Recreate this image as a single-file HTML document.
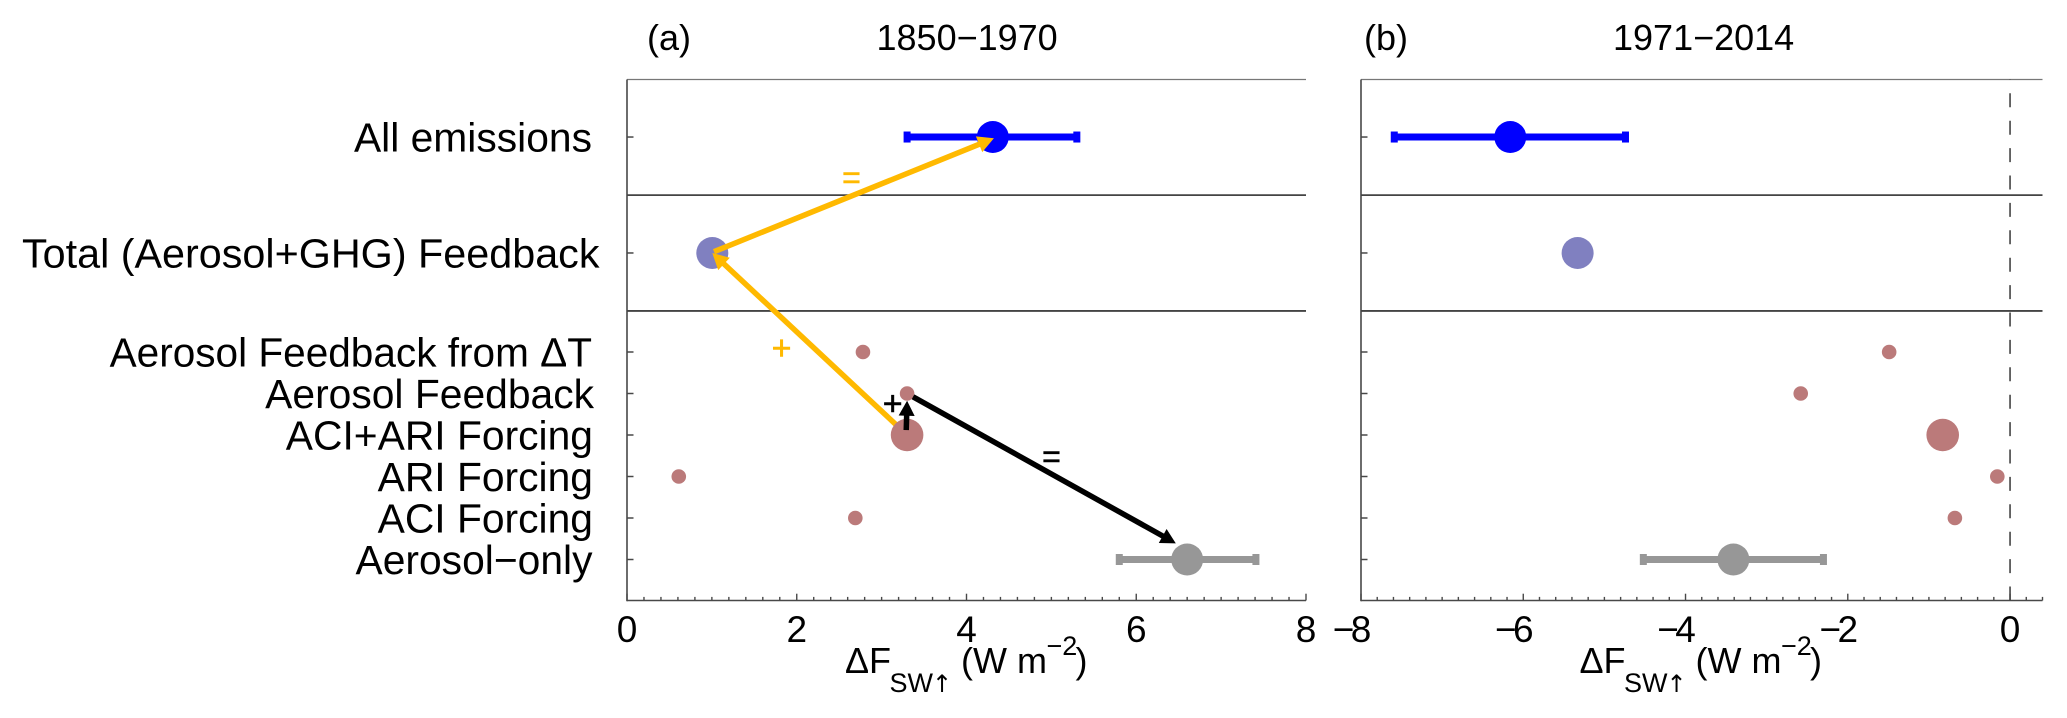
<!DOCTYPE html>
<html lang="en">
<head>
<meta charset="utf-8">
<title>Shortwave flux change attribution</title>
<style>
html,body{margin:0;padding:0;background:#fff;width:2067px;height:718px;overflow:hidden}
svg{display:block}
text{font-family:"Liberation Sans",Arial,sans-serif;fill:#000}
</style>
</head>
<body>
<svg id="chart" xmlns="http://www.w3.org/2000/svg" width="2067" height="718" viewBox="0 0 2067 718">
<rect width="2067" height="718" fill="#fff"/>
<text x="647" y="50" font-size="36">(a)</text>
<text x="876.5" y="50" font-size="36">1850−1970</text>
<text x="1364" y="50" font-size="36">(b)</text>
<text x="1613" y="50" font-size="36">1971−2014</text>
</svg>
<script>
// ---- chart data ----
const categories = ["All emissions","Total (Aerosol+GHG) Feedback","Aerosol Feedback from ΔT","Aerosol Feedback","ACI+ARI Forcing","ARI Forcing","ACI Forcing","Aerosol−only"];
const categoryRows = [10.18,7.386,5,4,3,2,1,0];
const markerKinds = ["all","total","part","part","sum","part","part","aerosol"];
const panelAValues = [4.31,1.005,2.78,3.30,3.30,0.61,2.69,6.60];
const panelBValues = [-6.16,-5.33,-1.49,-2.58,-0.83,-0.157,-0.68,-3.41];
const panelAErrLow = [3.30,null,null,null,null,null,null,5.80];
const panelAErrHigh = [5.30,null,null,null,null,null,null,7.41];
const panelBErrLow = [-7.59,null,null,null,null,null,null,-4.52];
const panelBErrHigh = [-4.74,null,null,null,null,null,null,-2.30];
const panelATickLabels = [0,2,4,6,8];
const panelBTickLabels = [-8,-6,-4,-2,0];
const dividerRows = [8.78,5.99];
// arrows expressed in axis units: x value and category row
const orangeArrowFromX = [3.30,1.025];
const orangeArrowFromRow = [3,7.417];
const orangeArrowToX = [1.005,4.323];
const orangeArrowToRow = [7.386,10.15];
const blackArrowFromX = [3.29,3.37];
const blackArrowFromRow = [3.12,3.92];
const blackArrowToX = [3.30,6.466];
const blackArrowToRow = [3.826,0.39];

// ---- layout and style (not data) ----
const NS = "http://www.w3.org/2000/svg";
const svg = document.getElementById("chart");
const plotTop = 79.5, plotBottom = 600.5, rowZero = 559.5, rowStep = 41.5;
const panelA = {left:627, right:1306, min:0, max:8, titleShift:0};
const panelB = {left:1361, right:2042.5, min:-8, max:0.4, titleShift:734.5};
const axisColor = "#484848";
const markerStyles = {
  all:{fill:"#0000ff", r:16, bar:"#0000ff"},
  total:{fill:"#8080c0", r:16},
  part:{fill:"#bb7a7a", r:7.3},
  sum:{fill:"#bb7a7a", r:16.3},
  aerosol:{fill:"#979797", r:16, bar:"#979797"}
};
const labelRightEdges = [592,599.5,592,594,593,593,593,592.5];
const labelFitWidths = [null,577.5,482.4,null,null,null,null,null];
const orangeColor = "#ffb900";

function mk(parent, tag, attrs, content) {
  const el = document.createElementNS(NS, tag);
  for (const k in attrs) el.setAttribute(k, attrs[k]);
  if (content !== undefined) el.textContent = content;
  parent.appendChild(el);
  return el;
}
function xScale(p, v) { return p.left + (v - p.min) * (p.right - p.left) / (p.max - p.min); }
function yScale(row) { return rowZero - row * rowStep; }

function drawAxes(p, name, tickLabels) {
  const g = mk(svg, "g", {});
  
  
  const top = mk(g, "line", {x1:p.left, x2:p.right, y1:plotTop, y2:plotTop, stroke:"#777", "stroke-width":1.3});
  
  
  const leftAxis = mk(g, "line", {x1:p.left, x2:p.left, y1:plotTop, y2:plotBottom + 0.8, stroke:axisColor, "stroke-width":1.6});
  
  
  const bottomAxis = mk(g, "line", {x1:p.left, x2:p.right, y1:plotBottom, y2:plotBottom, stroke:axisColor, "stroke-width":1.6});
  
  
  dividerRows.forEach(function (row) {
    const d = mk(g, "line", {x1:p.left, x2:p.right, y1:yScale(row), y2:yScale(row), stroke:"#444", "stroke-width":1.8});
    
    
  });
  categoryRows.forEach(function (row) {
    const t = mk(g, "line", {x1:p.left, x2:p.left + 6.5, y1:yScale(row), y2:yScale(row), stroke:axisColor, "stroke-width":1.5});
    
    
  });
  const minorCount = Math.round((p.max - p.min) / 0.2);
  for (let i = 0; i <= minorCount; i++) {
    const v = p.min + i * 0.2;
    const major = Math.abs(v / 2 - Math.round(v / 2)) < 1e-6;
    const t = mk(g, "line", {x1:xScale(p, v), x2:xScale(p, v), y1:plotBottom, y2:plotBottom - (major ? 6.8 : 3.6), stroke:axisColor, "stroke-width":1.4});
    
    
  }
  tickLabels.forEach(function (v) {
    const neg = v < 0;
    const t = mk(g, "text", {x:xScale(p, v) + (neg ? 10.3 : 0), y:642, "font-size":37, "text-anchor":neg ? "end" : "middle"});
    
    
    if (neg) {
      mk(t, "tspan", {}, "−");
      mk(t, "tspan", {dx:-3.5}, String(Math.abs(v)));
    } else {
      t.textContent = String(v);
    }
  });
  const title = mk(g, "g", {transform:"translate(" + p.titleShift + ",0)"});
  
  
  mk(title, "text", {x:845, y:673, "font-size":36}, "ΔF");
  mk(title, "text", {x:889.5, y:692, "font-size":27}, "SW");
  mk(title, "text", {x:942, y:692, "font-size":24, "text-anchor":"middle", style:'font-family:"DejaVu Sans",sans-serif'}, "↑");
  mk(title, "text", {x:961, y:673, "font-size":36}, "(W m");
  mk(title, "text", {x:1046.5, y:655, "font-size":27}, "−2");
  mk(title, "text", {x:1075.5, y:673, "font-size":36}, ")");
}

function drawErrorBars(p, name, low, high) {
  categories.forEach(function (c, i) {
    if (low[i] === null) return;
    const style = markerStyles[markerKinds[i]];
    const y = yScale(categoryRows[i]);
    const g = mk(svg, "g", {});
    
    
    mk(g, "line", {x1:xScale(p, low[i]), x2:xScale(p, high[i]), y1:y, y2:y, stroke:style.bar, "stroke-width":7});
    [low[i], high[i]].forEach(function (v) {
      mk(g, "rect", {x:xScale(p, v) - 3.5, y:y - 5.5, width:7, height:11, fill:style.bar});
    });
  });
}

function drawMarkers(p, name, values, kinds) {
  values.forEach(function (v, i) {
    if (kinds.indexOf(markerKinds[i]) < 0) return;
    const style = markerStyles[markerKinds[i]];
    const m = mk(svg, "circle", {cx:xScale(p, v), cy:yScale(categoryRows[i]), r:style.r, fill:style.fill});
    
    
  });
}

function drawArrow(p, x0, r0, x1, r1, color, width, headLen, headHalf, name) {
  const ax = xScale(p, x0), ay = yScale(r0), bx = xScale(p, x1), by = yScale(r1);
  const dx = bx - ax, dy = by - ay, len = Math.hypot(dx, dy), ux = dx / len, uy = dy / len;
  const nx = bx - ux * headLen, ny = by - uy * headLen;
  const g = mk(svg, "g", {});
  
  
  mk(g, "line", {x1:ax, y1:ay, x2:nx + ux, y2:ny + uy, stroke:color, "stroke-width":width});
  mk(g, "polygon", {fill:color, points:[bx, by, nx - uy * headHalf, ny + ux * headHalf, nx + uy * headHalf, ny - ux * headHalf].join(" ")});
}

function drawSign(x, y, ch, color, size, name) {
  const s = mk(svg, "text", {x:x, y:y, "font-size":size, "text-anchor":"middle", stroke:color, "stroke-width":0.6, style:"fill:" + color}, ch);
  
  
}

// ---- category labels ----
categories.forEach(function (c, i) {
  const t = mk(svg, "text", {x:labelRightEdges[i], y:yScale(categoryRows[i]) + 14.7, "font-size":40.8, "text-anchor":"end"}, c);
  if (labelFitWidths[i] !== null) {
    t.setAttribute("textLength", labelFitWidths[i]);
    t.setAttribute("lengthAdjust", "spacingAndGlyphs");
  }
  
  
});

// ---- panels ----
drawAxes(panelA, "panel-a", panelATickLabels);
drawAxes(panelB, "panel-b", panelBTickLabels);

const zeroLine = mk(svg, "line", {x1:xScale(panelB, 0), x2:xScale(panelB, 0), y1:plotBottom, y2:plotTop, stroke:"#444", "stroke-width":1.6, "stroke-dasharray":"14 13.4"});



drawErrorBars(panelA, "panel-a", panelAErrLow, panelAErrHigh);
drawErrorBars(panelB, "panel-b", panelBErrLow, panelBErrHigh);
drawMarkers(panelA, "panel-a", panelAValues, ["all","total","aerosol"]);
drawMarkers(panelB, "panel-b", panelBValues, ["all","total","aerosol","part","sum"]);

orangeArrowFromX.forEach(function (v, i) {
  drawArrow(panelA, v, orangeArrowFromRow[i], orangeArrowToX[i], orangeArrowToRow[i], orangeColor, 5.5, 16, 8.5, "orange-arrow-" + i);
});
drawMarkers(panelA, "panel-a", panelAValues, ["part","sum"]);
blackArrowFromX.forEach(function (v, i) {
  drawArrow(panelA, v, blackArrowFromRow[i], blackArrowToX[i], blackArrowToRow[i], "#000", 5.5, 15, 8, "black-arrow-" + i);
});

drawSign(851.5, 188.3, "=", orangeColor, 32, "orange-equals-sign");
drawSign(781.5, 359.6, "+", orangeColor, 34, "orange-plus-sign");
drawSign(892.7, 414.9, "+", "#000", 34, "black-plus-sign");
drawSign(1051.5, 467.3, "=", "#000", 32, "black-equals-sign");
</script>
</body>
</html>
